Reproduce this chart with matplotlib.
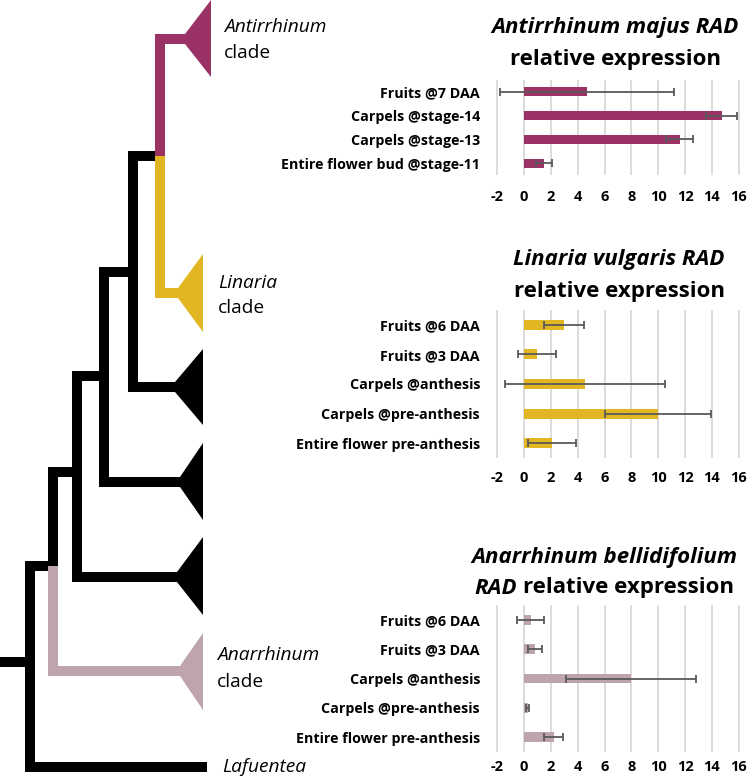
import matplotlib
matplotlib.use("Agg")
import matplotlib.pyplot as plt
from matplotlib.patches import Rectangle, Polygon

plt.rcParams['font.family'] = ['Open Sans', 'DejaVu Sans']

W, H = 751, 781
DPI = 100

# ---------------- data: bar charts ----------------
am_labels = ["Fruits @7 DAA", "Carpels @stage-14", "Carpels @stage-13", "Entire flower bud @stage-11"]
am_values = [4.7, 14.75, 11.6, 1.5]
am_errors = [6.5, 1.15, 1.0, 0.6]

lv_labels = ["Fruits @6 DAA", "Fruits @3 DAA", "Carpels @anthesis", "Carpels @pre-anthesis", "Entire flower pre-anthesis"]
lv_values = [3.0, 0.95, 4.55, 9.95, 2.05]
lv_errors = [1.5, 1.4, 5.95, 3.95, 1.8]

ab_labels = ["Fruits @6 DAA", "Fruits @3 DAA", "Carpels @anthesis", "Carpels @pre-anthesis", "Entire flower pre-anthesis"]
ab_values = [0.5, 0.8, 7.95, 0.25, 2.2]
ab_errors = [1.0, 0.5, 4.85, 0.1, 0.7]

x_ticks = list(range(-2, 17, 2))

PURPLE = "#9b3265"
YELLOW = "#e2b622"
PINK = "#bea4ac"
BLACK = "#000000"

# ---------------- data: tree ----------------
# tips: name -> (y, apex_x, tri_top, tri_bottom, right_x, color)
tips = {
    "Antirrhinum": (39, 185, 0, 77, 211, PURPLE),
    "Linaria": (293, 178, 254, 332, 203, YELLOW),
    "cladeA": (387, 175, 349, 425, 203, BLACK),
    "cladeB": (482, 180, 443, 520, 203, BLACK),
    "cladeC": (577, 177, 537, 615, 203, BLACK),
    "Anarrhinum": (671, 180, 633, 710, 203, PINK),
    "Lafuentea": (767, 207, None, None, None, BLACK),
}
# internal nodes: name -> (x, y, upper child, lower child)
nodes = {
    "n6": (160, 156, "Antirrhinum", "Linaria"),
    "n5": (133, 272, "n6", "cladeA"),
    "n4": (104, 376, "n5", "cladeB"),
    "n3": (77, 472, "n4", "cladeC"),
    "n2": (53, 566, "n3", "Anarrhinum"),
    "root": (30, 662, "n2", "Lafuentea"),
}
tip_labels = [
    ("Antirrhinum", "clade", 224, 27, 53),
    ("Linaria", "clade", 218, 283, 308),
    ("Anarrhinum", "clade", 217, 655, 682),
    ("Lafuentea", None, 222, 767, None),
]

fig = plt.figure(figsize=(W / DPI, H / DPI), dpi=DPI)
tree = fig.add_axes([0, 0, 1, 1])
tree.set_xlim(0, W)
tree.set_ylim(H, 0)
tree.axis("off")

HW = 5  # half line width in px


def child_info(name):
    if name in nodes:
        return nodes[name][0], nodes[name][1], BLACK
    t = tips[name]
    return t[1], t[0], t[5]


# horizontals
for nm, (nx, ny, c1, c2) in nodes.items():
    for c in (c1, c2):
        cx, cy, col = child_info(c)
        tree.add_patch(Rectangle((nx - HW, cy - HW), cx - nx + HW, 2 * HW, color=col, lw=0))
# root stub
rx, ry = nodes["root"][0], nodes["root"][1]
tree.add_patch(Rectangle((0, ry - HW), rx, 2 * HW, color=BLACK, lw=0))
# verticals
for nm, (nx, ny, c1, c2) in nodes.items():
    _, y1, col1 = child_info(c1)
    _, y2, col2 = child_info(c2)
    tree.add_patch(Rectangle((nx - HW, y1 - HW), 2 * HW, ny - y1 + HW, color=col1, lw=0))
    tree.add_patch(Rectangle((nx - HW, ny), 2 * HW, y2 - ny + HW, color=col2, lw=0))
# triangles
for nm, (y, ax_, t0, t1, rx_, col) in tips.items():
    if t0 is None:
        continue
    tree.add_patch(Polygon([(ax_, y - HW), (rx_, t0), (rx_, t1), (ax_, y + HW)], closed=True, color=col, lw=0))
# labels
for it, reg, lx, y1, y2 in tip_labels:
    tree.text(lx, y1, it, style="italic", fontsize=13.8, va="center", ha="left")
    if reg:
        tree.text(lx, y2, reg, fontsize=13.8, va="center", ha="left")

# ---------------- bar charts ----------------
XMIN, XMAX = -2.1, 16.1
AX_L, AX_R = 496, 740


def make_axes(top, bottom):
    return fig.add_axes([AX_L / W, 1 - bottom / H, (AX_R - AX_L) / W, (bottom - top) / H])


def bar_chart(ax, labels, values, errors, color, height, xpad):
    pos = list(range(len(labels)))
    ax.set_xlim(XMIN, XMAX)
    ax.set_ylim(len(labels) - 0.5, -0.5)
    for t in x_ticks:
        ax.axvline(t, color="#d9d9d9", lw=1.3, zorder=0)
    ax.barh(pos, values, height=height, color=color, zorder=2)
    ax.errorbar(values, pos, xerr=errors, fmt="none", ecolor="#595959",
                elinewidth=1.3, capsize=3, capthick=1.3, zorder=3)
    ax.set_yticks(pos)
    ax.set_yticklabels(labels, fontsize=10.3, fontweight="bold")
    ax.set_xticks(x_ticks)
    ax.set_xticklabels([str(t) for t in x_ticks], fontsize=10.5, fontweight="bold")
    ax.tick_params(axis="y", length=0, pad=11.5)
    ax.tick_params(axis="x", length=0, pad=xpad)
    for s in ax.spines.values():
        s.set_visible(False)
    ax.patch.set_alpha(0)


ax1 = make_axes(80, 175)
bar_chart(ax1, am_labels, am_values, am_errors, PURPLE, 0.38, 11)
ax2 = make_axes(310, 458)
bar_chart(ax2, lv_labels, lv_values, lv_errors, YELLOW, 0.34, 9)
ax3 = make_axes(605, 752)
bar_chart(ax3, ab_labels, ab_values, ab_errors, PINK, 0.34, 6)

TFS = 16


def ftext(x, y, s, **kw):
    return fig.text(x / W, 1 - y / H, s, fontsize=TFS, fontweight="bold", va="center", **kw)


ftext(615, 28, "Antirrhinum majus RAD", style="italic", ha="center")
ftext(615, 60, "relative expression", ha="center")
ftext(619, 260, "Linaria vulgaris RAD", style="italic", ha="center")
ftext(619, 292, "relative expression", ha="center")
ftext(604, 557, "Anarrhinum bellidifolium", style="italic", ha="center")

# mixed-style second line for third chart
r = fig.canvas.get_renderer()
t1 = ftext(0, 588, "RAD", style="italic", ha="left")
t2 = ftext(0, 588, "relative expression", ha="left")
w1 = t1.get_window_extent(r).width
w2 = t2.get_window_extent(r).width
gap = 0.26 * TFS * DPI / 72
x0 = 604 - (w1 + gap + w2) / 2
t1.set_x(x0 / W)
t2.set_x((x0 + w1 + gap) / W)

fig.savefig("out.png", dpi=DPI)
